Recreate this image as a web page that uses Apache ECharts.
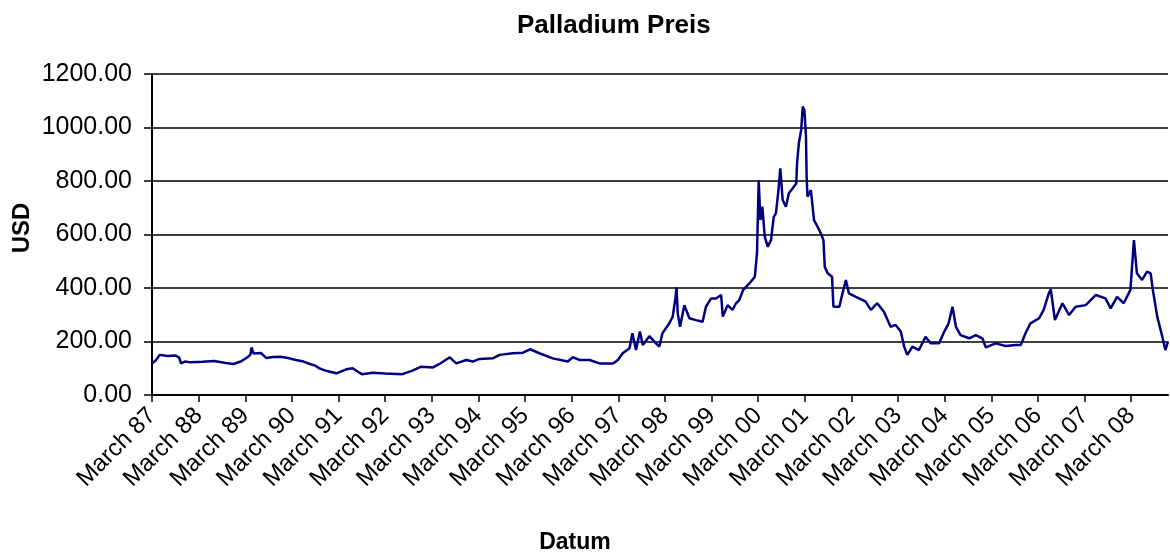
<!DOCTYPE html>
<html>
<head>
<meta charset="utf-8">
<script src="https://cdn.jsdelivr.net/npm/echarts@6/dist/echarts.min.js"></script>
<style>
html,body{margin:0;padding:0;background:#fff;}
#chart{width:1170px;height:556px;}
</style>
</head>
<body>
<div id="chart"></div>
<script>
// Dates of readings
const dates = [
'1987-03-01','1987-04-01','1987-05-01','1987-07-01','1987-09-01','1987-10-01','1987-10-15','1987-11-15',
'1988-01-01','1988-04-01','1988-07-01','1988-10-01','1988-12-01','1989-02-01','1989-03-15','1989-04-10',
'1989-04-20','1989-05-05','1989-07-01','1989-08-15','1989-10-01','1989-12-01','1990-02-01','1990-04-01',
'1990-06-01','1990-07-20','1990-09-01','1990-10-01','1990-11-15','1990-12-25','1991-02-15','1991-05-01',
'1991-06-20','1991-08-01','1991-09-01','1991-11-25','1992-03-01','1992-07-15','1992-10-01','1992-12-10',
'1993-03-10','1993-05-01','1993-07-20','1993-09-10','1993-11-28','1994-01-18','1994-03-10','1994-06-22',
'1994-08-15','1994-11-28','1995-02-15','1995-04-10','1995-06-22','1995-10-05','1996-02-01','1996-03-10',
'1996-05-01','1996-07-20','1996-10-05','1997-01-20','1997-02-28','1997-04-05','1997-05-28','1997-06-20',
'1997-07-18','1997-08-18','1997-09-10','1997-11-01','1997-12-22','1998-01-18','1998-02-12','1998-04-05',
'1998-05-01','1998-05-22','1998-06-01','1998-06-10','1998-06-28','1998-08-01','1998-09-10','1998-11-01',
'1998-12-22','1999-01-18','1999-02-28','1999-04-05','1999-05-15','1999-05-28','1999-07-05','1999-08-12',
'1999-09-10','1999-10-05','1999-11-05','1999-12-25','2000-02-05','2000-02-22','2000-03-05','2000-03-18',
'2000-04-03','2000-04-22','2000-05-15','2000-06-10','2000-07-01','2000-07-18','2000-08-05','2000-08-22',
'2000-09-10','2000-10-05','2000-10-28','2000-11-28','2000-12-25','2001-01-01','2001-01-15','2001-02-03',
'2001-02-15','2001-02-28','2001-03-10','2001-03-15','2001-03-22','2001-04-18','2001-05-12','2001-06-10',
'2001-07-05','2001-07-25','2001-08-05','2001-08-28','2001-10-01','2001-10-12','2001-11-28','2001-12-22',
'2002-01-18','2002-02-12','2002-04-05','2002-05-28','2002-06-20','2002-08-01','2002-09-20','2002-11-12',
'2003-01-03','2003-02-12','2003-03-22','2003-04-18','2003-05-12','2003-06-22','2003-08-12','2003-10-03',
'2003-11-12','2004-01-18','2004-02-28','2004-04-01','2004-05-01','2004-05-28','2004-07-03','2004-09-10',
'2004-11-01','2004-12-22','2005-01-18','2005-04-05','2005-06-22','2005-09-10','2005-10-18','2005-11-25',
'2006-01-03','2006-03-10','2006-04-15','2006-05-25','2006-06-10','2006-07-12','2006-09-10','2006-11-01',
'2006-12-22','2007-03-10','2007-05-28','2007-08-12','2007-09-22','2007-11-12','2008-01-03','2008-02-25',
'2008-03-22','2008-04-15','2008-05-25','2008-07-03','2008-08-01','2008-08-18','2008-09-22','2008-11-01',
'2008-11-25','2008-12-15'
];
// Palladium price in USD
const prices = [
118,130,150,146,148,140,118,125,
122,124,127,120,116,126,140,150,
178,155,157,138,142,143,138,131,
125,116,110,100,92,87,81,96,
100,87,78,83,80,78,91,106,
103,116,141,118,131,125,135,137,
150,156,158,171,156,137,125,141,
131,131,118,118,131,156,175,231,
168,237,187,220,193,181,231,268,
293,361,402,305,255,336,287,280,
274,330,361,361,374,293,336,318,
343,355,393,418,442,530,804,654,
704,592,554,579,666,679,754,847,
729,704,754,773,791,866,941,991,
1078,1065,966,816,741,766,654,629,
604,579,479,455,442,330,330,380,
430,380,367,355,349,318,343,311,
255,262,237,181,150,181,168,218,
193,193,237,268,330,255,224,212,
224,212,178,193,183,187,187,231,
268,287,318,380,395,280,343,299,
330,336,374,361,324,367,343,393,
579,455,430,461,455,393,293,218,
168,200
];
// Axis tick labels (one per March)
const xLabels = ['March 87','March 88','March 89','March 90','March 91','March 92','March 93','March 94',
'March 95','March 96','March 97','March 98','March 99','March 00','March 01','March 02','March 03',
'March 04','March 05','March 06','March 07','March 08'];

function monthOffset(s){
  const [y,m,d] = s.split('-').map(Number);
  return (y-1987)*12 + (m-3) + (d-1)/30.44;
}
const seriesData = dates.map((d,i)=>[monthOffset(d), prices[i]]);
const tickVals = xLabels.map((_,i)=>i*12);
const xMax = seriesData[seriesData.length-1][0];

const FONT = "'Liberation Sans', Arial, sans-serif";
const chart = echarts.init(document.getElementById('chart'), null, {renderer:'canvas'});
chart.setOption({
  animation:false,
  backgroundColor:'#fff',
  title:{
    text:'Palladium Preis', left:512, top:8,
    textStyle:{fontFamily:FONT, fontSize:26, fontWeight:'bold', color:'#000'}
  },
  graphic:[
    {type:'text', x:575, y:543, style:{text:'Datum', font:"bold 23px 'Liberation Sans', Arial", fill:'#000', textAlign:'center', textVerticalAlign:'middle'}},
    {type:'text', x:22, y:228, rotation:Math.PI/2, style:{text:'USD', font:"bold 24px 'Liberation Sans', Arial", fill:'#000', textAlign:'center', textVerticalAlign:'middle'}}
  ],
  grid:{left:152, right:1170-1168, top:74, bottom:556-395, containLabel:false},
  xAxis:{
    type:'value', min:0, max:xMax,
    axisLine:{show:true, lineStyle:{color:'#000', width:2}},
    axisTick:{show:true, length:7, customValues:tickVals, lineStyle:{color:'#000', width:1.5}},
    axisLabel:{show:true, rotate:45, customValues:tickVals, margin:17, fontFamily:FONT, fontSize:24, color:'#000',
      formatter:(v)=>xLabels[Math.round(v/12)] || ''},
    splitLine:{show:false}
  },
  yAxis:{
    type:'value', min:0, max:1200, interval:200,
    axisLine:{show:true, lineStyle:{color:'#000', width:2}},
    axisTick:{show:true, length:8, lineStyle:{color:'#000', width:1.5}},
    axisLabel:{margin:20, fontFamily:FONT, fontSize:25, color:'#000', formatter:(v)=>v.toFixed(2)},
    splitLine:{show:true, lineStyle:{color:'#000', width:1.5}}
  },
  series:[{
    type:'line', data:seriesData, showSymbol:false, symbol:'none',
    lineStyle:{color:'#000080', width:2.5}, z:3
  }]
});
</script>
</body>
</html>
